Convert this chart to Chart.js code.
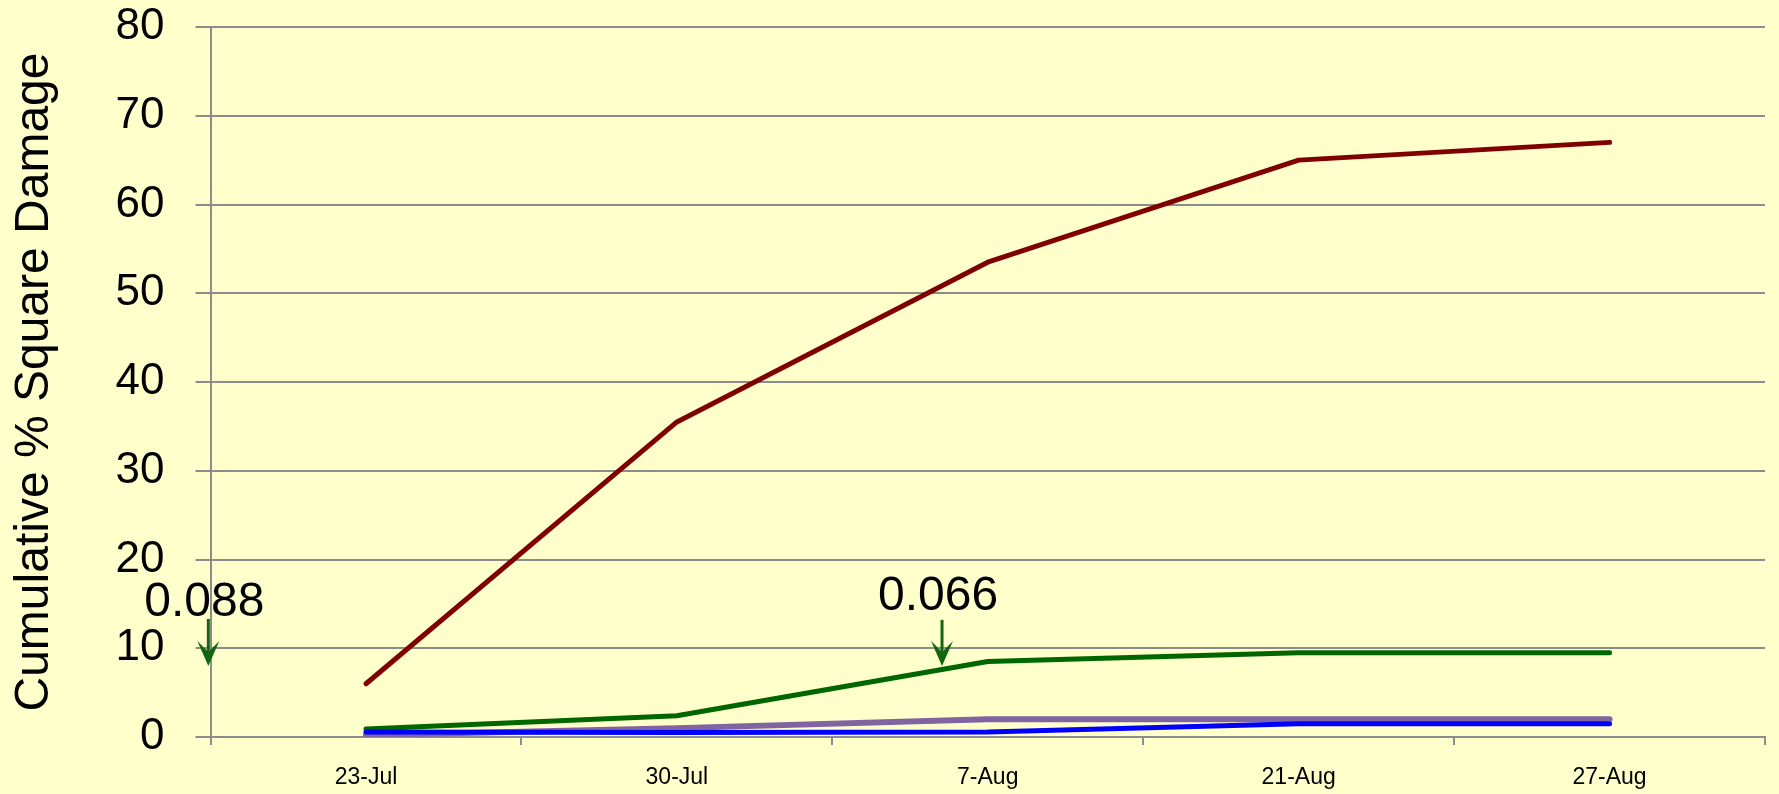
<!DOCTYPE html>
<html>
<head>
<meta charset="utf-8">
<script src="https://cdn.jsdelivr.net/npm/chart.js@4.4.1/dist/chart.umd.min.js"></script>
<style>
  html, body { margin: 0; padding: 0; background: #FFFFCC; }
  #wrap { width: 1779px; height: 794px; }
</style>
</head>
<body>
<div id="wrap"><canvas id="damageChart"></canvas></div>
<script>
// dates sampled
const dates = ['23-Jul', '30-Jul', '7-Aug', '21-Aug', '27-Aug'];

// cumulative % square damage per line
const redValues = [6, 35.5, 53.5, 65, 67];
const greenValues = [0.9, 2.4, 8.5, 9.5, 9.5];
const blueValues = [0.55, 0.5, 0.55, 1.5, 1.5];
const purpleValues = [0.2, 1, 2, 2, 2];

const yTicks = [0, 10, 20, 30, 40, 50, 60, 70, 80];

// callouts: label, x position (category index), text y, arrow top, arrow tip
const noteLabels = ['0.088', '0.066'];
const noteX = [-0.52, 1.84];
const noteTextY = [15.4, 16.0];
const noteArrowTop = [13.3, 13.2];
const noteArrowTip = [8.0, 8.0];

const GRID = '#8c8c8c';

const bgPlugin = {
  id: 'bg',
  beforeDraw(chart) {
    const c = chart.ctx;
    c.save();
    c.fillStyle = '#FFFFCC';
    c.fillRect(0, 0, chart.width, chart.height);
    c.restore();
  }
};

const notesPlugin = {
  id: 'notes',
  afterDatasetsDraw(chart) {
    const c = chart.ctx;
    const xs = chart.scales.x, ys = chart.scales.y;
    c.save();
    noteLabels.forEach((txt, i) => {
      const px = xs.getPixelForValue(noteX[i]);
      c.font = '48px "Liberation Sans", Arial, sans-serif';
      c.fillStyle = '#000';
      c.textAlign = 'center';
      c.textBaseline = 'middle';
      c.fillText(txt, px, ys.getPixelForValue(noteTextY[i]) + 2);

      const ax = px + 4;
      const top = ys.getPixelForValue(noteArrowTop[i]);
      const tip = ys.getPixelForValue(noteArrowTip[i]);
      c.strokeStyle = '#126612';
      c.fillStyle = '#126612';
      c.lineWidth = 3;
      c.beginPath();
      c.moveTo(ax, top);
      c.lineTo(ax, tip - 8);
      c.stroke();
      c.beginPath();
      c.moveTo(ax, tip);
      c.lineTo(ax - 11, tip - 25);
      c.lineTo(ax, tip - 14);
      c.lineTo(ax + 11, tip - 25);
      c.closePath();
      c.fill();
    });
    c.restore();
  }
};

const ctx = document.getElementById('damageChart').getContext('2d');

new Chart(ctx, {
  type: 'line',
  data: {
    labels: dates,
    datasets: [
      {
        label: 'Red',
        data: redValues,
        borderColor: '#800000',
        borderWidth: 5
      },
      {
        label: 'Blue',
        data: blueValues,
        borderColor: '#0000FF',
        borderWidth: 5
      },
      {
        label: 'Purple',
        data: purpleValues,
        borderColor: '#8064A2',
        borderWidth: 6
      },
      {
        label: 'Green',
        data: greenValues,
        borderColor: '#006600',
        borderWidth: 5
      }
    ].map(d => Object.assign(d, {
      pointRadius: 0,
      pointHoverRadius: 0,
      tension: 0,
      fill: false,
      borderCapStyle: 'round',
      borderJoinStyle: 'round'
    }))
  },
  options: {
    responsive: true,
    maintainAspectRatio: false,
    animation: false,
    layout: {
      padding: { top: 27, right: 14, bottom: 2, left: 0 }
    },
    plugins: {
      legend: { display: false },
      tooltip: { enabled: false }
    },
    scales: {
      x: {
        type: 'category',
        offset: true,
        afterFit(scale) {
          scale.height = 55;
        },
        grid: {
          offset: true,
          drawOnChartArea: false,
          drawTicks: true,
          tickLength: 8,
          color: GRID,
          lineWidth: 2
        },
        border: { display: true, color: GRID, width: 2 },
        ticks: {
          color: '#000',
          padding: 19,
          maxRotation: 0,
          font: { family: '"Liberation Sans", Arial, sans-serif', size: 23 }
        }
      },
      y: {
        min: 0,
        max: 80,
        afterBuildTicks(scale) {
          scale.ticks = yTicks.map(v => ({ value: v }));
        },
        afterFit(scale) {
          scale.paddingTop = 0;
          scale.paddingBottom = 0;
        },
        grid: {
          color: GRID,
          lineWidth: 2,
          tickLength: 15
        },
        border: { display: true, color: GRID, width: 2 },
        ticks: {
          color: '#000',
          padding: 31,
          font: { family: '"Liberation Sans", Arial, sans-serif', size: 44 }
        },
        title: {
          display: true,
          text: 'Cumulative % Square Damage',
          color: '#000',
          padding: { top: 6, bottom: 21 },
          font: { family: '"Liberation Sans", Arial, sans-serif', size: 48 }
        }
      }
    }
  },
  plugins: [bgPlugin, notesPlugin]
});
</script>
</body>
</html>
